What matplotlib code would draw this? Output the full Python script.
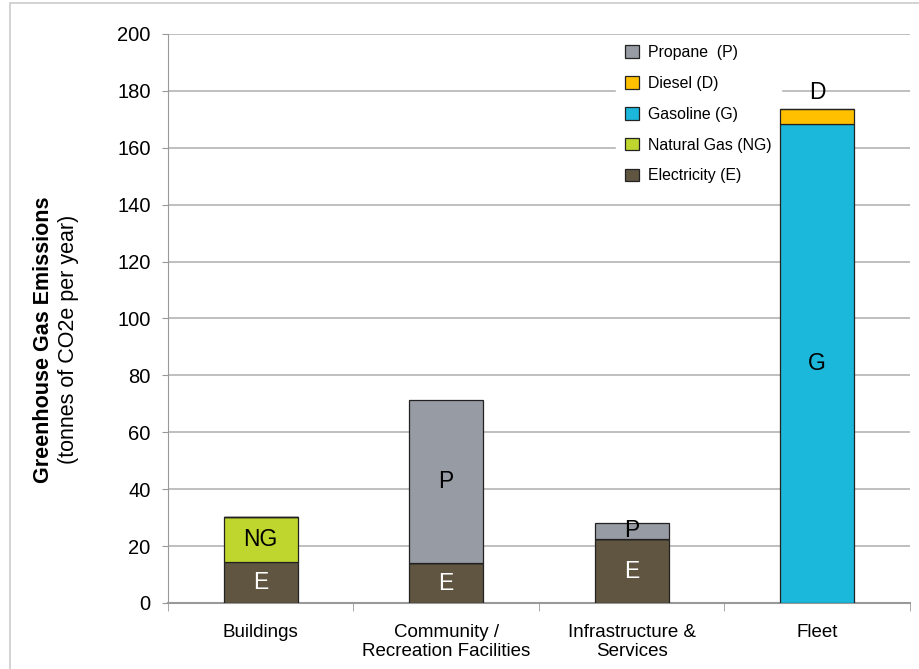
import matplotlib.pyplot as plt
import numpy as np
from matplotlib.patches import Rectangle

plt.rcParams["font.family"] = ["Liberation Sans", "DejaVu Sans"]

categories = ["Buildings", "Community /\nRecreation Facilities",
              "Infrastructure &\nServices", "Fleet"]

# stacked from the bottom up
sources = ["Electricity (E)", "Natural Gas (NG)", "Gasoline (G)",
           "Diesel (D)", "Propane  (P)"]
short = ["E", "NG", "G", "D", "P"]
electricity = [14.5, 14.0, 22.4, 0.0]
natural_gas = [15.6, 0.0, 0.0, 0.0]
gasoline = [0.0, 0.0, 0.0, 168.5]
diesel = [0.0, 0.0, 0.0, 5.3]
propane = [0.0, 57.4, 5.8, 0.0]
series = [electricity, natural_gas, gasoline, diesel, propane]
colors = ["#5f5541", "#bfd62f", "#1bb8dc", "#ffc000", "#979ba3"]
label_colors = ["white", "black", "black", "black", "black"]

fig = plt.figure(figsize=(9.2, 6.69), dpi=100)
ax = fig.add_axes([0.1826, 0.0987, 0.8064, 0.8505])

x = np.arange(len(categories))
bottom = np.zeros(len(categories))
handles = []
for name, tag, vals, c, lc in zip(sources, short, series, colors, label_colors):
    vals = np.array(vals)
    bars = ax.bar(x, vals, 0.4, bottom=bottom, color=c, edgecolor="#222222",
                  linewidth=0.9, label=name, zorder=3)
    handles.append(bars)
    for xi, b, v in zip(x, bottom, vals):
        if v <= 0:
            continue
        if tag == "D":
            # too thin to hold its letter, so it sits on top
            ax.text(xi, b + v + 1.5, tag, ha="center", va="bottom",
                    fontsize=16.5, color=lc, zorder=4)
        else:
            ax.text(xi, b + v / 2, tag, ha="center", va="center",
                    fontsize=16.5, color=lc, zorder=4)
    bottom = bottom + vals

ax.set_xlim(-0.5, len(categories) - 0.5)
ax.set_ylim(0, 200)
ax.set_yticks(np.arange(0, 201, 20))
ax.yaxis.grid(True, color="#b4b4b4", linewidth=1.2, zorder=0)
ax.set_axisbelow(True)

ax.set_xticks(x)
ax.set_xticklabels(categories, fontsize=13.5, linespacing=1.15)
ax.set_xticks(np.arange(-0.5, len(categories)), minor=True)
ax.tick_params(axis="x", which="major", length=0, pad=15)
ax.tick_params(axis="x", which="minor", length=6, color="#999999")
ax.tick_params(axis="y", labelsize=14.5, length=4.5, color="#999999", pad=8)

for s in ["top", "right"]:
    ax.spines[s].set_visible(False)
ax.spines["left"].set_color("#999999")
ax.spines["bottom"].set_color("#999999")
ax.spines["bottom"].set_linewidth(1.5)

fig.text(0.047, 0.492, "Greenhouse Gas Emissions", rotation=90,
         ha="center", va="center", fontsize=15.5, fontweight="bold")
fig.text(0.074, 0.492, "(tonnes of CO2e per year)", rotation=90,
         ha="center", va="center", fontsize=15.5)

leg = ax.legend(handles[::-1], sources[::-1], loc="upper left",
                bbox_to_anchor=(0.593, 1.011), frameon=True, fontsize=11.4,
                handlelength=0.85, handleheight=0.85, labelspacing=1.0,
                borderpad=0.6, handletextpad=0.55)
leg.get_frame().set_edgecolor("white")
leg.get_frame().set_facecolor("white")
leg.get_frame().set_alpha(1)
leg.get_frame().set_boxstyle("square", pad=0)
leg.set_zorder(2)  # over the grid, under the bars

# thin frame round the chart area
fig.patches.append(Rectangle((0.011, -0.1), 1.2, 1.095,
                             transform=fig.transFigure, fill=False,
                             edgecolor="#cccccc", linewidth=1.2))

fig.savefig("out.png", dpi=100)
